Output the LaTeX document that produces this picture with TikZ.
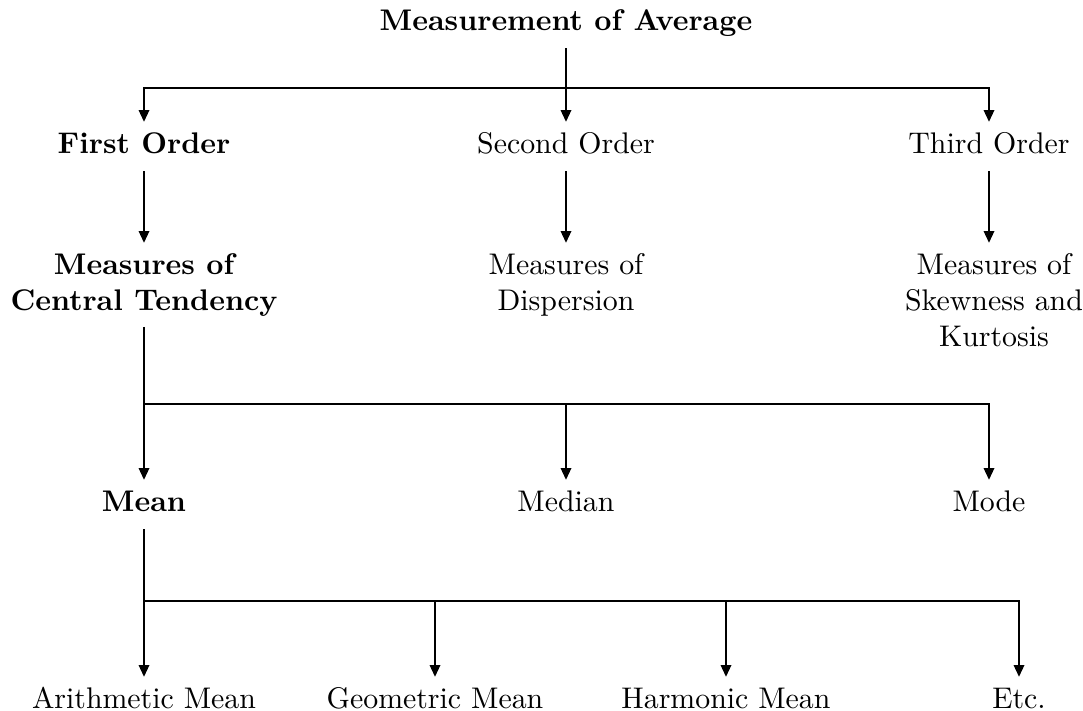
\documentclass[tikz,border=0pt]{standalone}
\usetikzlibrary{arrows.meta,calc}
\begin{document}
\begin{tikzpicture}[x=0.335pt,y=-0.335pt,
  lbl/.style={inner sep=3.33pt, text height=0.7em, text depth=0.25em},
  bl/.style={lbl, font=\bfseries},
  ml/.style={inner sep=3.33pt, align=center},
  mlb/.style={ml, font=\bfseries},
  conn/.style={line width=0.9pt},
  arr/.style={conn, -{Triangle[length=4pt,width=3.4pt]}}]
\useasboundingbox (0,0) rectangle (1083,711);
% level 0
\node[bl, anchor=south] (title) at (566,48) {Measurement of Average};
% level 1
\node[bl, anchor=north] (first) at (144,122) {First Order};
\node[lbl, anchor=north] (second) at (566,122) {Second Order};
\node[lbl, anchor=north] (third) at (989,122) {Third Order};
% level 2
\node[mlb, anchor=north] (ct) at (144,243) {Measures of\\Central Tendency};
\node[ml, anchor=north] (disp) at (566,243) {Measures of\\Dispersion};
\node[ml, anchor=north] (skew) at (994,243) {Measures of\\Skewness and\\Kurtosis};
% level 3
\node[bl, anchor=north] (mean) at (144,480) {Mean};
\node[lbl, anchor=north] (median) at (566,480) {Median};
\node[lbl, anchor=north] (mode) at (989,480) {Mode};
% level 4
\node[lbl, anchor=north] (am) at (144,677) {Arithmetic Mean};
\node[lbl, anchor=north] (gm) at (435,677) {Geometric Mean};
\node[lbl, anchor=north] (hm) at (726,677) {Harmonic Mean};
\node[lbl, anchor=north] (etc) at (1019,677) {Etc.};
% junctions
\coordinate (j1) at (title.south |- 0,88);
\coordinate (j2) at (ct.south |- 0,404);
\coordinate (j3) at (mean.south |- 0,601);
% connectors
\draw[arr] (title) -- (second);
\draw[arr] (j1) -| (first);
\draw[arr] (j1) -| (third);
\draw[arr] (first) -- (ct);
\draw[arr] (second) -- (disp);
\draw[arr] (third) -- (third |- skew.north);
\draw[arr] (ct) -- (mean);
\draw[arr] (j2) -| (median);
\draw[arr] (j2) -| (mode);
\draw[arr] (mean) -- (am);
\draw[arr] (j3) -| (gm);
\draw[arr] (j3) -| (hm);
\draw[arr] (j3) -| (etc);
\end{tikzpicture}
\end{document}
